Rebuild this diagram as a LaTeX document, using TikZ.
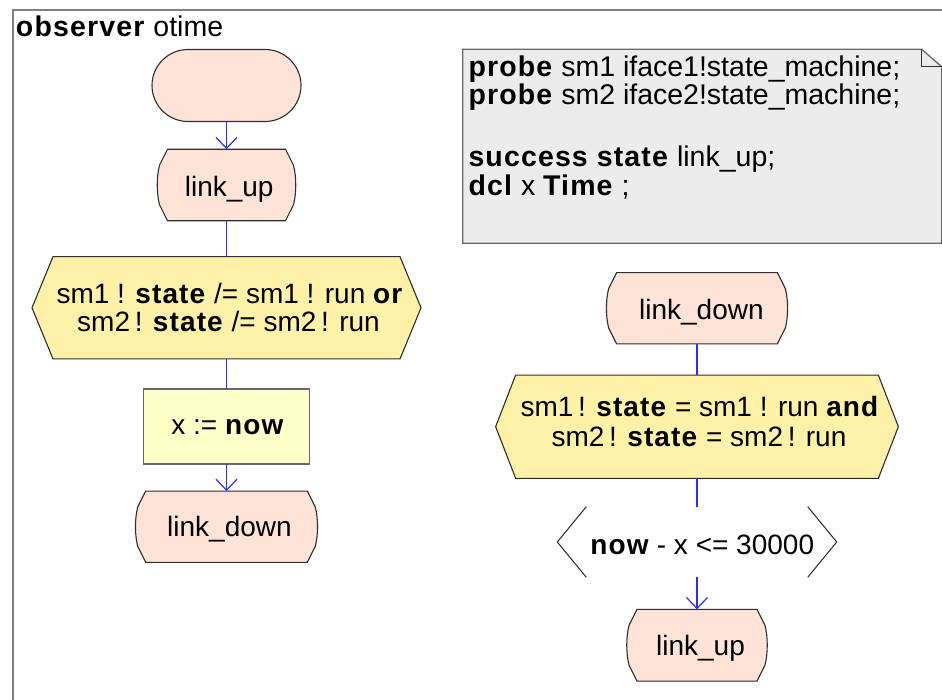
\documentclass[tikz,border=0pt]{standalone}
\usepackage{fontspec}
\setmainfont{Liberation Sans}[BoldFeatures={LetterSpace=4}]
\usetikzlibrary{arrows.meta,calc}

\definecolor{statefill}{RGB}{255,227,214}
\definecolor{decfill}{RGB}{255,241,168}
\definecolor{taskfill}{RGB}{255,255,200}
\definecolor{notefill}{RGB}{236,236,236}
\definecolor{flowblue}{RGB}{45,45,255}
\definecolor{framegray}{RGB}{128,128,128}
\definecolor{edgedark}{RGB}{45,45,45}
\definecolor{edgegray}{RGB}{105,105,105}

% SDL state symbol: chamfered corners, slightly bulging sides
\newcommand\drawstatesym[1]{%
  \draw[statesym] ([xshift=10pt]#1.north west) -- ([xshift=-10pt]#1.north east)
    -- ([xshift=-2pt,yshift=-16pt]#1.north east)
    .. controls +(3,12) and +(3,-12) .. ([xshift=-2pt,yshift=16pt]#1.south east)
    -- ([xshift=-10pt]#1.south east) -- ([xshift=10pt]#1.south west)
    -- ([xshift=2pt,yshift=16pt]#1.south west)
    .. controls +(-3,-12) and +(-3,12) .. ([xshift=2pt,yshift=-16pt]#1.north west)
    -- cycle;}

% SDL decision symbol: hexagon with pointed left and right ends
\newcommand\drawdecsym[2]{%
  \draw[decsym] ([xshift=#2]#1.north west) -- ([xshift=-#2]#1.north east)
    -- (#1.east) -- ([xshift=-#2]#1.south east)
    -- ([xshift=#2]#1.south west) -- (#1.west) -- cycle;}

\begin{document}
\begin{tikzpicture}[x=1pt,y=-1pt,
  box/.style={inner sep=0pt,outer sep=0pt},
  txt/.style={inner sep=0pt,outer sep=0pt,anchor=base,
              font=\fontsize{28}{28}\selectfont},
  notetxt/.style={txt,anchor=base west,font=\fontsize{28.5}{28.5}\selectfont},
  statesym/.style={draw=edgedark,fill=statefill,line width=1.1pt},
  decsym/.style={draw=edgedark,fill=decfill,line width=1.1pt},
  condsym/.style={draw=black!85,line width=1pt},
  flow/.style={draw=flowblue,line width=1.2pt},
  flowarrow/.style={flow,-{Straight Barb[length=11pt,width=21pt]}},
]
\useasboundingbox (0,0) rectangle (942,700);

% diagram frame
\draw[framegray,line width=2pt] (13,701) -- (13,10) -- (943,10);
\node[txt,anchor=base west,font=\fontsize{28.5}{28.5}\selectfont] (title) at (16,36.3)
  {\textbf{observer} otime};

% ---------- left branch ----------
\node[box,draw=edgedark,fill=statefill,line width=1.1pt,rounded corners=36pt,
      minimum width=149pt,minimum height=72pt] (start) at (226.5,85.5) {};

\node[box,minimum width=138pt,minimum height=71.5pt] (linkup1) at (226.5,185) {};
\drawstatesym{linkup1}
\node[txt] (linkup1t) at (229.2,197) {link\_up};

\node[box,minimum width=389pt,minimum height=102.3pt] (dec1) at (226.5,307.8) {};
\drawdecsym{dec1}{21pt}
\node[txt] (dec1a) at (230,303.3) {sm1 ! \textbf{state} /= sm1 ! run \textbf{or}};
\node[txt] (dec1b) at (228.5,331.7) {sm2\,! \textbf{state} /= sm2\,! run};

\node[box,draw=edgegray,fill=taskfill,line width=1.4pt,
      minimum width=166pt,minimum height=75pt] (task) at (226.5,426.5) {};
\node[txt] (taskt) at (228,434.3) {x := \textbf{now}};

\node[box,minimum width=181.6pt,minimum height=71.3pt] (linkdown1) at (226.5,526.7) {};
\drawstatesym{linkdown1}
\node[txt] (linkdown1t) at (229.5,536.7) {link\_down};

\draw[flowarrow] (start.south) -- (linkup1.north);
\draw[flow] (linkup1.south) -- (dec1.north);
\draw[flow] (dec1.south) -- (task.north);
\draw[flowarrow] (task.south) -- (linkdown1.north);

% ---------- declarations note ----------
\node[box,minimum width=479pt,minimum height=194pt] (note) at (702.2,146.3) {};
\draw[draw=edgegray,fill=notefill,line width=1.3pt]
  (note.north west) -- ([xshift=-20pt]note.north east)
  -- ([yshift=-17.5pt]note.north east) -- (note.south east)
  -- (note.south west) -- cycle;
\draw[draw=black!80,line width=1.1pt]
  ([xshift=-20pt]note.north east) -- ([xshift=-20pt,yshift=-17.5pt]note.north east)
  -- ([yshift=-17.5pt]note.north east);
\node[notetxt] (n1) at (468.5,77) {\textbf{probe} sm1 iface1!state\_machine;};
\node[notetxt] (n2) at (468.5,105) {\textbf{probe} sm2 iface2!state\_machine;};
\node[notetxt] (n3) at (468.5,167) {\textbf{success state} link\_up;};
\node[notetxt] (n4) at (468.5,196) {\textbf{dcl} x \textbf{Time} ;};

% ---------- right branch ----------
\node[box,minimum width=180.7pt,minimum height=71.3pt] (linkdown2) at (697,308.3) {};
\drawstatesym{linkdown2}
\node[txt] (linkdown2t) at (701.4,320) {link\_down};

\node[box,minimum width=402.7pt,minimum height=103.3pt] (dec2) at (697,426.7) {};
\drawdecsym{dec2}{20pt}
\node[txt] (dec2a) at (700,416.7) {sm1\,! \textbf{state} = sm1 ! run \textbf{and}};
\node[txt] (dec2b) at (699,446.7) {sm2\,! \textbf{state} = sm2\,! run};

\node[box,minimum width=279.4pt,minimum height=70.6pt] (cond) at (697,542) {};
\draw[condsym] ([xshift=29pt]cond.north west) -- (cond.west) -- ([xshift=29pt]cond.south west);
\draw[condsym] ([xshift=-29pt]cond.north east) -- (cond.east) -- ([xshift=-29pt]cond.south east);
\node[txt] (condt) at (702.3,554) {\textbf{now}\hspace{7pt}- x <= 30000};

\node[box,minimum width=140pt,minimum height=71.7pt] (linkup2) at (697,645.2) {};
\drawstatesym{linkup2}
\node[txt] (linkup2t) at (700.5,655) {link\_up};

\draw[flow] (linkdown2.south) -- (dec2.north);
\draw[flow] (dec2.south) -- (cond.north);
\draw[flowarrow] (cond.south) -- (linkup2.north);
\end{tikzpicture}
\end{document}
